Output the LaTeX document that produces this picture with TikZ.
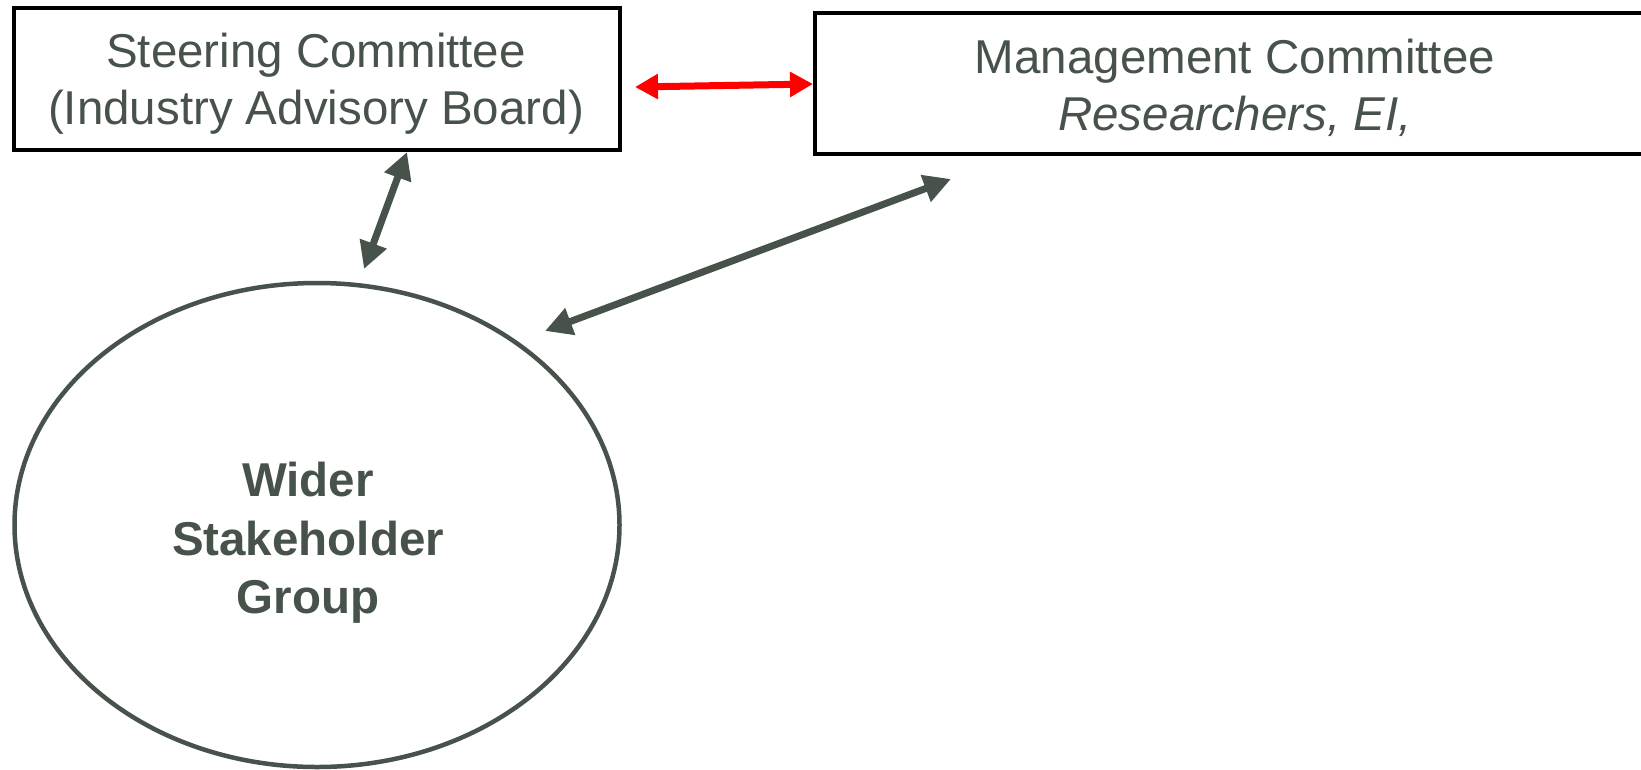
\documentclass[tikz,border=0pt]{standalone}
\usepackage{fontspec}
\setmainfont{Liberation Sans}
\usetikzlibrary{arrows.meta,shapes.geometric}
\definecolor{txt}{RGB}{70,82,74}
\definecolor{arr}{RGB}{70,82,74}
\definecolor{redarr}{RGB}{255,0,0}
\begin{document}
\begin{tikzpicture}[x=1pt,y=-1pt,
  lbl/.style={font=\fontsize{47.5}{57}\selectfont, text=txt, align=center},
  boxstyle/.style={draw=black, line width=4.5pt, fill=white, inner sep=0pt},
  darrow/.style={draw=arr, line width=7pt, {Triangle[length=27pt,width=27pt]}-{Triangle[length=27pt,width=27pt]}},
  rarrow/.style={draw=redarr, line width=7pt, {Triangle[length=23pt,width=24pt]}-{Triangle[length=23pt,width=24pt]}}
]
\useasboundingbox (0,0) rectangle (1641,769);
\fill[white] (0,0) rectangle (1641,769);
% boxes
\node[boxstyle, minimum width=606pt, minimum height=142pt] (sc) at (317,79) {};
\node[lbl] (sct) at (316,84) {Steering Committee\\(Industry Advisory Board)};
\node[boxstyle, minimum width=850pt, minimum height=141pt] (mc) at (1240,83.5) {};
\node[lbl] (mct) at (1235,88) {Management Committee\\\textit{Researchers, EI,}};
% ellipse
\node[draw=arr, line width=4.5pt, ellipse, minimum width=605pt, minimum height=484pt, inner sep=0pt] (ws) at (317,525) {};
\node[lbl, font=\fontsize{47.5}{58.5}\bfseries\selectfont] (wst) at (308,543) {Wider\\Stakeholder\\Group};
% arrow endpoints
\coordinate (a1) at (407,152);
\coordinate (a2) at (364,269);
\coordinate (b1) at (951,179);
\coordinate (b2) at (545,331);
\coordinate (r1) at (635,87);
\coordinate (r2) at (813,84);
\draw[darrow] (a1) -- (a2);
\draw[darrow] (b1) -- (b2);
\draw[rarrow] (r1) -- (r2);
\end{tikzpicture}
\end{document}
